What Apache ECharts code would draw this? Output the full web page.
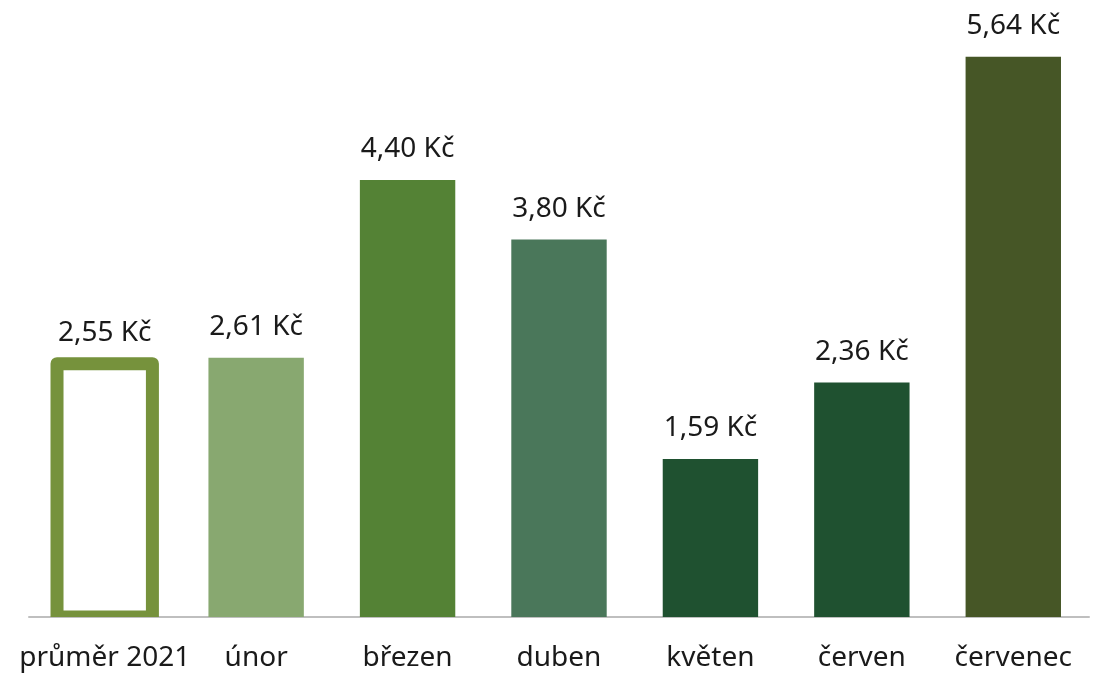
<!DOCTYPE html>
<html>
<head>
<meta charset="utf-8">
<script src="https://cdn.jsdelivr.net/npm/echarts@6/dist/echarts.min.js"></script>
<style>html,body{margin:0;padding:0;background:#fff}#c{width:1101px;height:678px}</style>
</head>
<body>
<div id="c"></div>
<script>
const categories = ['průměr 2021', 'únor', 'březen', 'duben', 'květen', 'červen', 'červenec'];
const values = [2.55, 2.61, 4.40, 3.80, 1.59, 2.36, 5.64];
const colors = ['transparent', '#88A870', '#548235', '#4A775A', '#1F5130', '#1F5130', '#465626'];
const outlineColor = '#76923C';

const chart = echarts.init(document.getElementById('c'), null, {renderer: 'canvas'});
const FONT = '"Noto Sans", "Open Sans", sans-serif';
const data = values.map((v, i) => ({value: v, itemStyle: {color: colors[i]}}));
chart.setOption({
  animation: false,
  backgroundColor: '#ffffff',
  grid: {left: 29, right: 12, top: 21, bottom: 61, containLabel: false},
  xAxis: {
    type: 'category',
    data: categories,
    axisLine: {lineStyle: {color: '#BFBFBF', width: 2}},
    axisTick: {show: false},
    axisLabel: {color: '#1a1a1a', fontFamily: FONT, fontSize: 28, margin: 27, interval: 0}
  },
  yAxis: {
    type: 'value', min: 0, max: 6, show: false,
    splitLine: {show: false}
  },
  series: [{
    type: 'bar',
    data: data,
    barCategoryGap: '37%',
    z: 2,
    label: {
      show: true, position: 'top', distance: 17,
      fontFamily: FONT, fontSize: 28, color: '#1a1a1a',
      formatter: p => p.value.toFixed(2).replace('.', ',') + ' Kč'
    }
  }, {
    type: 'custom',
    clip: true,
    z: 3,
    data: [[0, values[0]]],
    renderItem: function (params, api) {
      const top = api.coord([api.value(0), api.value(1)]);
      const base = api.coord([api.value(0), 0]);
      const w = api.size([1, 0])[0] * 0.63;
      return {
        type: 'rect',
        shape: {x: top[0] - w / 2, y: top[1], width: w, height: base[1] - top[1]},
        style: {fill: '#ffffff', stroke: outlineColor, lineWidth: 13, lineJoin: 'round'}
      };
    }
  }]
});
</script>
</body>
</html>
